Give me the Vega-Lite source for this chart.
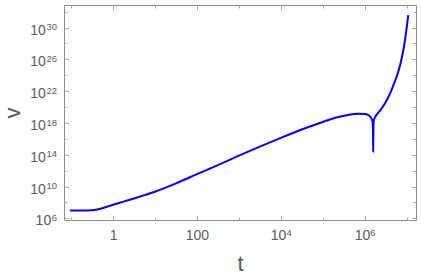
{
  "$schema": "https://vega.github.io/schema/vega-lite/v6.json",
  "width": 352,
  "height": 215,
  "autosize": "none",
  "padding": {"left": 64, "top": 5, "right": 5, "bottom": 56},
  "background": "white",
  "config": {
    "view": {"stroke": "#8c8c8c", "strokeWidth": 1},
    "axis": {
      "grid": false,
      "domain": false,
      "labelFont": "Liberation Sans",
      "titleFont": "Liberation Sans",
      "labelColor": "#5a5a5a",
      "titleColor": "#5a5a5a",
      "labelFlush": false,
      "labelOverlap": false,
      "tickColor": "#a8a8a8",
      "tickWidth": 1
    }
  },
  "data": {
    "values": [
      {"t": 0.0933, "v": 1.0e7},
      {"t": 0.158, "v": 1.0e7},
      {"t": 0.251, "v": 1.0e7},
      {"t": 0.355, "v": 1.122e7},
      {"t": 0.501, "v": 1.585e7},
      {"t": 0.708, "v": 2.818e7},
      {"t": 1.0, "v": 5.012e7},
      {"t": 1.778, "v": 1.259e8},
      {"t": 3.162, "v": 3.162e8},
      {"t": 5.623, "v": 8.318e8},
      {"t": 10, "v": 2.239e9},
      {"t": 31.62, "v": 2.512e10},
      {"t": 100, "v": 3.548e11},
      {"t": 316.2, "v": 5.012e12},
      {"t": 1000, "v": 7.586e13},
      {"t": 3162, "v": 1.047e15},
      {"t": 10000, "v": 1.318e16},
      {"t": 31623, "v": 1.479e17},
      {"t": 100000, "v": 1.318e18},
      {"t": 199526, "v": 4.467e18},
      {"t": 398107, "v": 1.0e19},
      {"t": 707946, "v": 1.413e19},
      {"t": 1000000, "v": 1.318e19},
      {"t": 1202264, "v": 1.0e19},
      {"t": 1348963, "v": 6.31e18},
      {"t": 1462177, "v": 3.162e18},
      {"t": 1548817, "v": 1.259e18},
      {"t": 1577611, "v": 1.585e17},
      {"t": 1595879, "v": 2.512e14},
      {"t": 1614359, "v": 1.585e17},
      {"t": 1640590, "v": 1.585e18},
      {"t": 1737801, "v": 4.467e18},
      {"t": 1819701, "v": 7.079e18},
      {"t": 2089296, "v": 1.778e19},
      {"t": 2398833, "v": 4.467e19},
      {"t": 2754229, "v": 1.259e20},
      {"t": 3162278, "v": 3.981e20},
      {"t": 3589219, "v": 1.413e21},
      {"t": 4120975, "v": 6.31e21},
      {"t": 4731513, "v": 3.981e22},
      {"t": 5370318, "v": 2.239e23},
      {"t": 6165950, "v": 1.778e24},
      {"t": 6839116, "v": 1.122e25},
      {"t": 7498942, "v": 8.913e25},
      {"t": 8222426, "v": 8.913e26},
      {"t": 8912509, "v": 1.0e28},
      {"t": 9549926, "v": 1.259e29},
      {"t": 10232930, "v": 1.995e30},
      {"t": 10964782, "v": 3.715e31}
    ]
  },
  "layer": [
    {
      "mark": {"type": "line", "opacity": 0},
      "encoding": {
        "x": {"field": "t", "type": "quantitative",
          "scale": {"type": "log", "domain": [0.0676, 16750000], "nice": false},
          "axis": {"orient": "bottom", "labels": false, "title": null,
            "values": [0.1, 1, 10, 100, 1000, 10000, 100000, 1000000, 10000000],
            "tickSize": {"condition": {"test": "datum.value >= 1 && round(log(datum.value)/LN10) % 2 == 0", "value": -4.5}, "value": -3}}},
        "y": {"field": "v", "type": "quantitative",
          "scale": {"type": "log", "domain": [6.17e5, 6.76e32], "nice": false, "zero": false},
          "axis": {"orient": "left", "labels": false, "title": null,
            "values": [1e6, 1e8, 1e10, 1e12, 1e14, 1e16, 1e18, 1e20, 1e22, 1e24, 1e26, 1e28, 1e30, 1e32],
            "tickSize": {"condition": {"test": "(round(log(datum.value)/LN10) - 6) % 4 == 0", "value": -4.5}, "value": -3}}}
      }
    },
    {
      "mark": {"type": "line", "opacity": 0},
      "encoding": {
        "x": {"field": "t", "type": "quantitative",
          "scale": {"type": "log", "domain": [0.0676, 16750000], "nice": false},
          "axis": {"orient": "top", "labels": false, "title": null,
            "values": [0.1, 1, 10, 100, 1000, 10000, 100000, 1000000, 10000000],
            "tickSize": {"condition": {"test": "datum.value >= 1 && round(log(datum.value)/LN10) % 2 == 0", "value": -4.5}, "value": -3}}},
        "y": {"field": "v", "type": "quantitative",
          "scale": {"type": "log", "domain": [6.17e5, 6.76e32], "nice": false, "zero": false},
          "axis": {"orient": "right", "labels": false, "title": null,
            "values": [1e6, 1e8, 1e10, 1e12, 1e14, 1e16, 1e18, 1e20, 1e22, 1e24, 1e26, 1e28, 1e30, 1e32],
            "tickSize": {"condition": {"test": "(round(log(datum.value)/LN10) - 6) % 4 == 0", "value": -4.5}, "value": -3}}}
      }
    },
    {
      "mark": {"type": "line", "opacity": 0},
      "encoding": {
        "x": {"field": "t", "type": "quantitative",
          "scale": {"type": "log", "domain": [0.0676, 16750000], "nice": false},
          "axis": {"orient": "bottom", "ticks": false, "title": null,
            "values": [10000, 1000000],
            "labelExpr": "datum.value > 100000 ? '6' : '4'",
            "labelFontSize": 9.5, "labelAlign": "left", "labelBaseline": "alphabetic",
            "labelPadding": 15.5, "labelOffset": 5.1}},
        "y": {"field": "v", "type": "quantitative",
          "scale": {"type": "log", "domain": [6.17e5, 6.76e32], "nice": false, "zero": false},
          "axis": {"orient": "left", "ticks": false, "title": null,
            "values": [1e6, 1e10, 1e14, 1e18, 1e22, 1e26, 1e30],
            "labelExpr": "'' + round(log(datum.value)/LN10)",
            "labelFontSize": 9.5, "labelAlign": "right", "labelBaseline": "alphabetic",
            "labelPadding": 7.5, "labelOffset": 2.2}}
      }
    },
    {
      "mark": {"type": "line", "color": "#0000ff", "strokeWidth": 2, "clip": true, "interpolate": "monotone"},
      "encoding": {
        "x": {"field": "t", "type": "quantitative",
          "scale": {"type": "log", "domain": [0.0676, 16750000], "nice": false},
          "axis": {"orient": "bottom", "ticks": false,
            "values": [1, 100, 10000, 1000000],
            "labelExpr": "datum.value < 2 ? '1' : datum.value < 200 ? '100' : '10'",
            "labelFontSize": 14, "labelAlign": "center", "labelBaseline": "alphabetic",
            "labelPadding": 19.5,
            "labelOffset": {"condition": {"test": "datum.value > 1000", "value": -2.7}, "value": 0},
            "title": "t", "titleFontSize": 22, "titleFontWeight": "normal",
            "titleY": 50, "titleBaseline": "alphabetic"}},
        "y": {"field": "v", "type": "quantitative",
          "scale": {"type": "log", "domain": [6.17e5, 6.76e32], "nice": false, "zero": false},
          "axis": {"orient": "left", "ticks": false,
            "values": [1e6, 1e10, 1e14, 1e18, 1e22, 1e26, 1e30],
            "labelExpr": "'10'",
            "labelFontSize": 14, "labelAlign": "right", "labelBaseline": "alphabetic",
            "labelOffset": 6.5,
            "labelPadding": {"condition": {"test": "datum.value < 1e8", "value": 13.3}, "value": 18.6},
            "title": "v", "titleFontSize": 22, "titleFontWeight": "normal",
            "titleX": -44.7, "titleY": 107.5, "titleAngle": -90,
            "titleBaseline": "alphabetic", "titleAlign": "center"}}
      }
    }
  ],
  "resolve": {"axis": {"x": "independent", "y": "independent"}}
}
